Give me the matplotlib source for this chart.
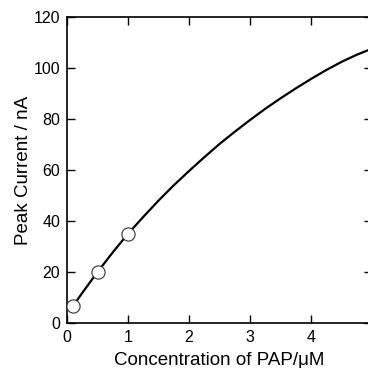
import matplotlib
matplotlib.use("Agg")
import matplotlib.pyplot as plt

# measured points
conc = [0.1, 0.5, 1.0]
current = [6.7, 20.0, 35.0]

# fitted curve
curve_x = [0.1, 0.25, 0.5, 0.75, 1.0, 1.25, 1.5, 1.75, 2.0, 2.25, 2.5, 2.75,
           3.0, 3.25, 3.5, 3.75, 4.0, 4.25, 4.5, 4.75, 5.0]
curve_y = [6.7, 11.8, 20.0, 27.7, 35.0, 41.6, 48.0, 54.0, 59.6, 65.0, 70.2, 75.0,
           79.6, 84.0, 88.1, 92.0, 95.7, 99.2, 102.4, 105.2, 107.6]

xticks = [0, 1, 2, 3, 4, 5]
xticklabels = ["0", "1", "2", "3", "4", ""]
yticks = [0, 20, 40, 60, 80, 100, 120]

plt.rcParams['font.family'] = ['Liberation Sans', 'DejaVu Sans']

fig = plt.figure(figsize=(3.68, 3.68), dpi=100)
ax = fig.add_axes([67/368, 45/368, 305/368, 306/368])

ax.plot(curve_x, curve_y, color='black', lw=1.6, zorder=2)
ax.plot(conc, current, linestyle='none', marker='o', ms=9.5,
        mfc='white', mec='#333333', mew=0.8, zorder=3)

ax.set_xlim(0, 5)
ax.set_ylim(0, 120)
ax.set_xticks(xticks)
ax.set_xticklabels(xticklabels)
ax.set_yticks(yticks)
ax.tick_params(direction='in', length=5.5, width=1.0, top=True, right=True,
               labelsize=11.5, pad=5, colors='black')
for s in ax.spines.values():
    s.set_linewidth(1.2)

ax.set_xlabel("Concentration of PAP/μM", fontsize=13.5, labelpad=5)
ax.set_ylabel("Peak Current / nA", fontsize=13.5, labelpad=1)

fig.savefig("out.png", dpi=100)
